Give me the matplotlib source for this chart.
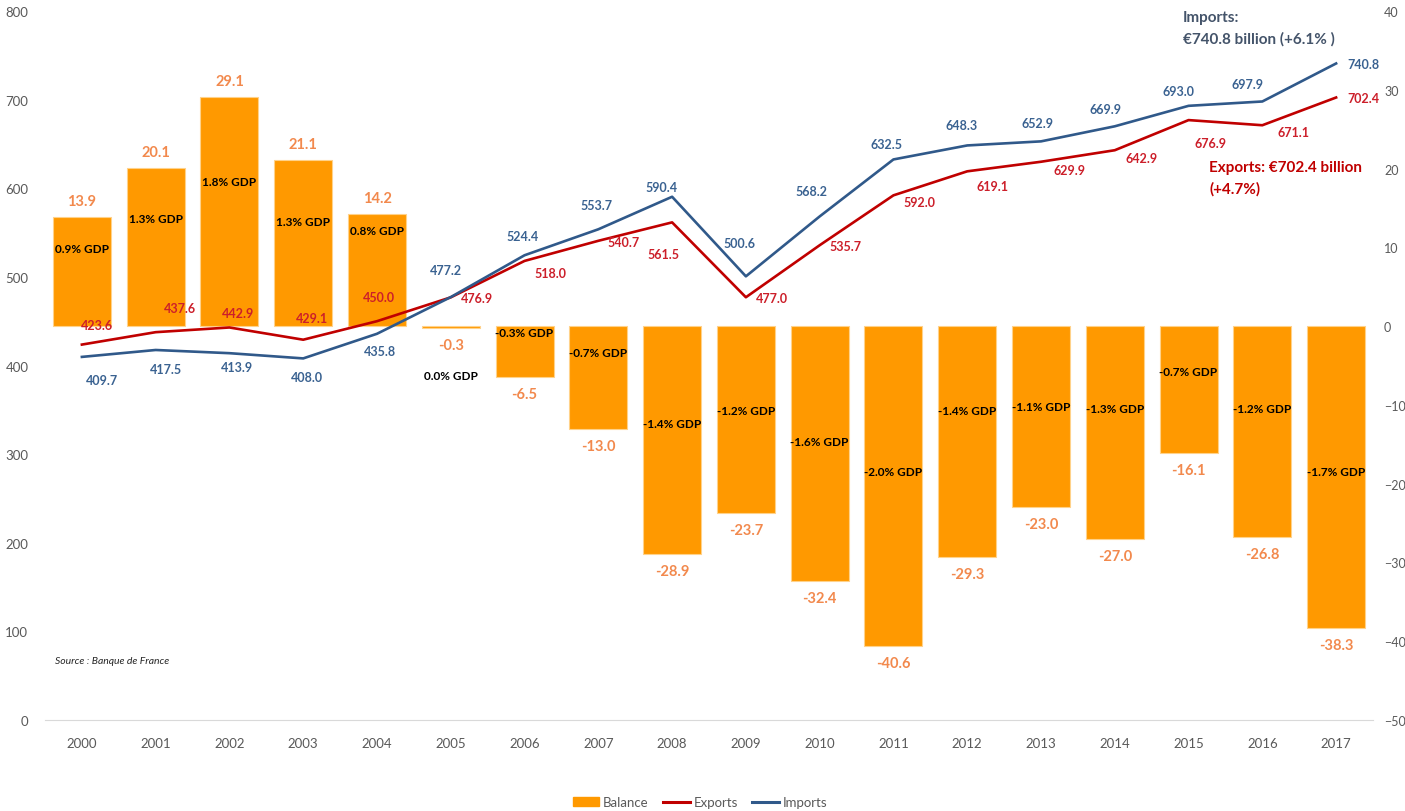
import matplotlib.pyplot as plt
from matplotlib.patches import Patch
from matplotlib.lines import Line2D

plt.rcParams['font.family'] = ['Lato', 'DejaVu Sans']

years = [str(y) for y in range(2000, 2018)]
balance = [13.9, 20.1, 29.1, 21.1, 14.2, -0.3, -6.5, -13.0, -28.9, -23.7,
           -32.4, -40.6, -29.3, -23.0, -27.0, -16.1, -26.8, -38.3]
gdp_share = [0.9, 1.3, 1.8, 1.3, 0.8, 0.0, -0.3, -0.7, -1.4, -1.2,
             -1.6, -2.0, -1.4, -1.1, -1.3, -0.7, -1.2, -1.7]
exports = [423.6, 437.6, 442.9, 429.1, 450.0, 476.9, 518.0, 540.7, 561.5, 477.0,
           535.7, 592.0, 619.1, 629.9, 642.9, 676.9, 671.1, 702.4]
imports = [409.7, 417.5, 413.9, 408.0, 435.8, 477.2, 524.4, 553.7, 590.4, 500.6,
           568.2, 632.5, 648.3, 652.9, 669.9, 693.0, 697.9, 740.8]

# where the data labels sit (pixels: right, down) - hand placed like in Excel
imp_off = [(20, 23), (10, 19), (8, 14), (4, 19), (3, 17), (-5, -27), (-2, -19),
           (-2, -24), (-11, -10), (-6, -33), (-8, -25), (-7, -15), (-6, -20),
           (-3, -18), (-9, -17), (-10, -15), (-15, -17), (27, 1)]
exp_off = [(15, -20), (24, -24), (9, -14), (9, -22), (2, -24), (26, 1), (26, 12),
           (25, 1), (-9, 32), (26, 1), (26, 1), (26, 7), (25, 15), (28, 8),
           (27, 8), (22, 23), (31, 7), (27, 1)]
gdp_y = [9.9, 13.6, 18.4, 13.3, 12.1, -6.3, -0.8, -3.4, -12.3, -10.7,
         -14.6, -18.5, -10.7, -10.2, -10.4, -5.7, -10.4, -18.5]

ORANGE = "#FF9900"
BAL_TXT = "#F2894D"
RED = "#C00000"
RED_TXT = "#CC1F2A"
BLUE = "#30598A"
BLUE_TXT = "#3A6291"
GREY = "#595959"

fig = plt.figure(figsize=(14.05, 8.12), dpi=100)
ax = fig.add_axes([45 / 1405, 91 / 812, 1328 / 1405, 709 / 812])
ax2 = ax.twinx()
ax.set_zorder(ax2.get_zorder() + 1)
ax.patch.set_visible(False)

x = list(range(len(years)))

# balance bars on the right axis
ax2.bar(x, balance, width=0.785, color=ORANGE, edgecolor="#FFD28A", linewidth=0.8)
for i, v in enumerate(balance):
    dy = 16 if v >= 0 else -17
    ax2.annotate(f"{v:.1f}", (i, v), xytext=(0, dy), textcoords="offset pixels",
                 ha="center", va="center", fontsize=10.5, fontweight="bold", color=BAL_TXT)
    ax2.text(i, gdp_y[i], f"{gdp_share[i]:.1f}% GDP", ha="center", va="center",
             fontsize=8.5, fontweight="bold", color="black")

# exports / imports on the left axis
ax.plot(x, exports, color=RED, lw=1.9)
ax.plot(x, imports, color=BLUE, lw=1.9)
for i in x:
    dx, dy = exp_off[i]
    ax.annotate(f"{exports[i]:.1f}", (i, exports[i]), xytext=(dx, -dy),
                textcoords="offset pixels", ha="center", va="center",
                fontsize=9, fontweight="bold", color=RED_TXT)
    dx, dy = imp_off[i]
    ax.annotate(f"{imports[i]:.1f}", (i, imports[i]), xytext=(dx, -dy),
                textcoords="offset pixels", ha="center", va="center",
                fontsize=9, fontweight="bold", color=BLUE_TXT)

ax.set_xlim(-0.5, len(years) - 0.5)
ax.set_ylim(0, 800)
ax.set_yticks(range(0, 801, 100))
ax2.set_ylim(-50, 40)
ax2.set_yticks(range(-50, 41, 10))
ax.set_xticks(x)
ax.set_xticklabels(years)

for a in (ax, ax2):
    for s in ("top", "left", "right", "bottom"):
        a.spines[s].set_visible(False)
ax.spines["bottom"].set_visible(True)
ax.spines["bottom"].set_color("#D9D9D9")
ax.tick_params(axis="both", length=0, labelsize=9.5, labelcolor=GREY)
ax.tick_params(axis="y", pad=12)
ax.tick_params(axis="x", pad=12)
ax2.tick_params(axis="y", length=0, labelsize=9, labelcolor=GREY, pad=8)

# annotations
fig.text(1183 / 1405, 1 - 18 / 812, "Imports:", ha="left", va="center",
         fontsize=11, fontweight="bold", color="#44546A")
fig.text(1183 / 1405, 1 - 39 / 812, "€740.8 billion (+6.1% )", ha="left", va="center",
         fontsize=11, fontweight="bold", color="#44546A")
fig.text(1209 / 1405, 1 - 168 / 812, "Exports: €702.4 billion", ha="left", va="center",
         fontsize=11, fontweight="bold", color=RED)
fig.text(1209 / 1405, 1 - 189 / 812, "(+4.7%)", ha="left", va="center",
         fontsize=11, fontweight="bold", color=RED)
fig.text(55 / 1405, 1 - 661 / 812, "Source : Banque de France", ha="left", va="center",
         fontsize=7.5, style="italic", color="#262626")

handles = [Patch(color=ORANGE), Line2D([], [], color=RED, lw=2.2),
           Line2D([], [], color=BLUE, lw=2.2)]
fig.legend(handles, ["Balance", "Exports", "Imports"], loc="center",
           bbox_to_anchor=(700 / 1405, 1 - 803 / 812), ncol=3, frameon=False,
           fontsize=9.5, labelcolor=GREY, handlelength=2.0, handleheight=0.6,
           handletextpad=0.3, columnspacing=1.1)

fig.savefig("out.png", dpi=100)
